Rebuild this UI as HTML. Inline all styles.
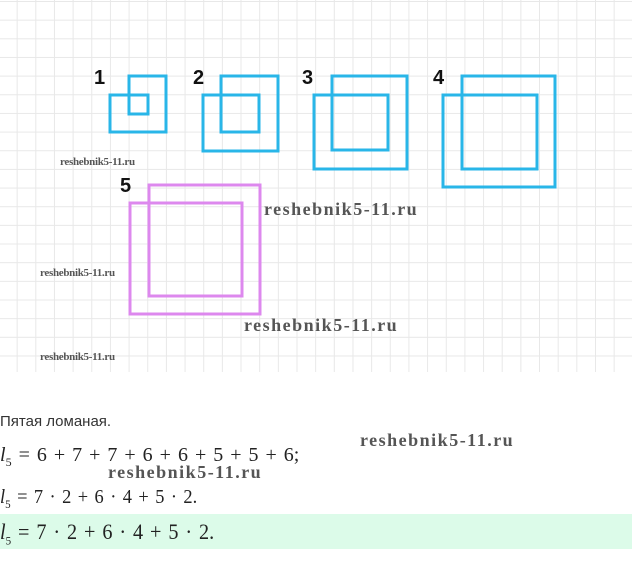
<!DOCTYPE html>
<html><head><meta charset="utf-8"><style>
body{margin:0;width:632px;height:582px;background:#fff;position:relative;overflow:hidden;font-family:"Liberation Sans",sans-serif}
.grid{position:absolute;left:0;top:0;width:632px;height:372px;
background-image:linear-gradient(to right,#e8e8e8 1px,transparent 1px),linear-gradient(to bottom,#e8e8e8 1px,transparent 1px);
background-size:18.67px 18.67px;background-position:-2px 1px}
.wm{position:absolute;font-family:"Liberation Serif",serif;font-weight:bold;color:#555;white-space:nowrap}
.s{font-size:11px;letter-spacing:-0.3px}
.b{font-size:18px;letter-spacing:1.5px}
.m{position:absolute;left:0;font-family:"Liberation Serif",serif;font-size:20px;color:#222;white-space:nowrap;word-spacing:2px;transform-origin:0 0}
i{font-style:italic}
sub{font-size:12px}
</style></head><body>
<div class="grid"></div>
<svg width="632" height="372" style="position:absolute;left:0;top:0" fill="none" stroke-linejoin="miter">
<g stroke="#29b6e8" stroke-width="3">
<path d="M129 76V114H148V95H110V132H166V76Z"/>
<path d="M221 76V132H259V95H203V151H278V76Z"/>
<path d="M332 76V150H388V95H314V169H407V76Z"/>
<path d="M462 76V169H537V95H443V187H555V76Z"/>
</g>
<path d="M149 185V296H242V203H130V314H260V185Z" stroke="#dd88ee" stroke-width="3"/>
<g font-family="Liberation Sans,sans-serif" font-size="20" font-weight="bold" fill="#111">
<text x="94" y="84">1</text><text x="193" y="84">2</text><text x="302" y="84">3</text><text x="433" y="84">4</text><text x="120" y="192">5</text>
</g>
</svg>
<div class="wm s" style="left:60px;top:156px">reshebnik5-11.ru</div>
<div class="wm b" style="left:264px;top:199px">reshebnik5-11.ru</div>
<div class="wm s" style="left:40px;top:267px">reshebnik5-11.ru</div>
<div class="wm b" style="left:244px;top:315px">reshebnik5-11.ru</div>
<div class="wm s" style="left:40px;top:351px">reshebnik5-11.ru</div>
<div style="position:absolute;left:0;top:413px;font-size:15px;color:#333">Пятая ломаная.</div>
<div class="wm b" style="left:360px;top:430px">reshebnik5-11.ru</div>
<div class="m" style="top:444px;transform:scaleX(1.0)"><i>l</i><sub>5</sub> = 6 + 7 + 7 + 6 + 6 + 5 + 5 + 6;</div>
<div class="wm b" style="left:108px;top:462px">reshebnik5-11.ru</div>
<div class="m" style="top:486px;transform:scaleX(0.92)"><i>l</i><sub>5</sub> = 7 · 2 + 6 · 4 + 5 · 2.</div>
<div style="position:absolute;left:0;top:514px;width:632px;height:35px;background:#dcfbe9"></div>
<div class="m" style="top:519px;font-size:22px;transform:scaleX(0.92)"><i>l</i><sub>5</sub> = 7 · 2 + 6 · 4 + 5 · 2.</div>
</body></html>
